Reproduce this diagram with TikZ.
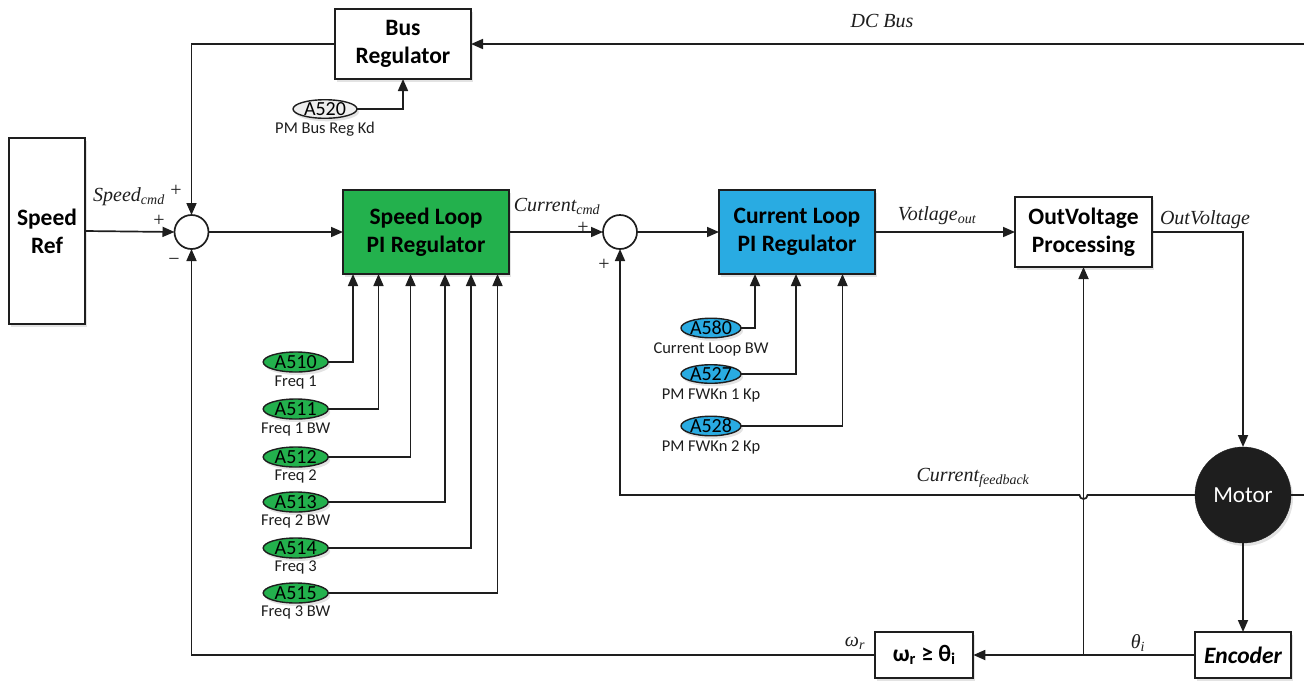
\documentclass[tikz,border=0pt]{standalone}
\usepackage{fontspec}
\setmainfont{Carlito}
\newfontfamily\tms{Liberation Serif}
\usetikzlibrary{arrows.meta,shadows,shapes.geometric,calc}
\definecolor{bgreen}{RGB}{35,177,77}
\definecolor{bblue}{RGB}{41,171,226}
\definecolor{lgrey}{RGB}{238,238,238}
\definecolor{ink}{RGB}{30,30,30}
\begin{document}
\begin{tikzpicture}[x=1pt,y=-1pt,
  every node/.style={inner sep=0pt,outer sep=0pt},
  line/.style={draw=ink,line width=1.7pt},
  arr/.style={line,-{Triangle[length=12pt,width=10pt]}},
  shad/.style={drop shadow={shadow xshift=2pt,shadow yshift=-3pt,opacity=0.22}},
  blk/.style={draw=ink,line width=2.2pt,rectangle,align=center,fill=white,shad,
    font=\fontsize{23.5}{28}\selectfont\bfseries},
  sumj/.style={draw=ink,line width=1.7pt,circle,fill=white,minimum size=34pt},
  par/.style={ellipse,draw=ink,line width=1.4pt,shad,font=\fontsize{20}{20}\selectfont},
  gpar/.style={par,fill=bgreen,minimum width=65pt,minimum height=20pt},
  bpar/.style={par,fill=bblue,minimum width=60pt,minimum height=18pt},
  plab/.style={font=\fontsize{16.5}{18}\selectfont,text=ink},
  ilab/.style={font=\fontsize{20}{22}\selectfont\tms\itshape,text=ink},
  sgn/.style={font=\fontsize{20}{20}\selectfont\tms,text=ink}
]
\useasboundingbox (0,0) rectangle (1304,681);

% blocks
\node[blk,minimum width=136pt,minimum height=70pt] (busreg) at (403,44) {Bus\\Regulator};
\node[blk,minimum width=76pt,minimum height=186pt] (speedref) at (47,231) {Speed\\Ref};
\node[blk,fill=bgreen,minimum width=166pt,minimum height=84pt] (speedloop) at (426,232) {Speed Loop\\PI Regulator};
\node[blk,fill=bblue,minimum width=156pt,minimum height=84pt] (currloop) at (797,232) {Current Loop\\PI Regulator};
\node[blk,minimum width=137pt,minimum height=70pt] (outv) at (1083.5,232) {OutVoltage\\Processing};
\node[circle,fill=ink,draw=ink,minimum size=96pt,shad,text=white,font=\fontsize{23}{28}\selectfont] (motor) at (1243,495) {Motor};
\node[blk,minimum width=96pt,minimum height=46pt,font=\fontsize{23.5}{28}\selectfont\bfseries\itshape] (encoder) at (1243,655) {Encoder};
\node[blk,minimum width=98pt,minimum height=46pt] (omega) at (924.3,655) {ω\textsubscript{r} ≥ θ\textsubscript{i}};

% summing junctions
\node[sumj] (sum1) at (191.5,232) {};
\node[sumj] (sum2) at (620,232) {};

% parameters
\node[par,fill=lgrey,minimum width=64pt,minimum height=18pt] (a520) at (325,109) {A520};
\node[plab] (a520l) at (325,129) {PM Bus Reg Kd};

\node[gpar] (g1) at (295.7,362) {A510};
\node[plab] (g1l) at (295.7,383) {Freq 1};
\node[gpar] (g2) at (295.7,409) {A511};
\node[plab] (g2l) at (295.7,430) {Freq 1 BW};
\node[gpar] (g3) at (295.7,457) {A512};
\node[plab] (g3l) at (295.7,476) {Freq 2};
\node[gpar] (g4) at (295.7,502) {A513};
\node[plab] (g4l) at (295.7,521) {Freq 2 BW};
\node[gpar] (g5) at (295.7,548) {A514};
\node[plab] (g5l) at (295.7,567) {Freq 3};
\node[gpar] (g6) at (295.7,593) {A515};
\node[plab] (g6l) at (295.7,612) {Freq 3 BW};

\node[bpar] (b1) at (711,328) {A580};
\node[plab] (b1l) at (711,349) {Current Loop BW};
\node[bpar] (b2) at (711,374) {A527};
\node[plab] (b2l) at (711,396) {PM FWKn 1 Kp};
\node[bpar] (b3) at (711,426) {A528};
\node[plab] (b3l) at (711,447) {PM FWKn 2 Kp};

% signal labels
\node[ilab] (ldc) at (882,21) {DC Bus};
\node[ilab] (lsp) at (129,197) {Speed\textsubscript{cmd}};
\node[ilab] (lcc) at (557,206) {Current\textsubscript{cmd}};
\node[ilab] (lvo) at (937,216) {Votlage\textsubscript{out}};
\node[ilab] (lov) at (1205,220) {OutVoltage};
\node[ilab] (lcf) at (973,478) {Current\textsubscript{feedback}};
\node[ilab] (lwr) at (855,643) {ω\textsubscript{r}};
\node[ilab] (lth) at (1138,643) {θ\textsubscript{i}};
\node[sgn] (p1) at (176,191) {+};
\node[sgn] (p2) at (159,221) {+};
\node[sgn] (m1) at (174,262) {−};
\node[sgn] (p3) at (583,228) {+};
\node[sgn] (p4) at (604,265) {+};

% coordinates
\coordinate (dcin) at (1304,44);
\coordinate (mout) at (1304,495);
\coordinate (jn) at (outv.south |- encoder.west);
\coordinate (hopc) at (outv.south |- motor.west);

% connectors
\draw[arr] (dcin) -- (busreg.east);
\draw[arr] (busreg.west) -| (sum1.north);
\draw[arr] (a520.east) -| (busreg.south);
\draw[arr] (speedref.east) -- (sum1.west);
\draw[arr] (sum1.east) -- (speedloop.west);
\draw[arr] (speedloop.east) -- (sum2.west);
\draw[arr] (sum2.east) -- (currloop.west);
\draw[arr] (currloop.east) -- (outv.west);
\draw[arr] (outv.east) -| (motor.north);
\draw[arr] (motor.south) -- (encoder.north);
\draw[line] (motor.east) -- (mout);
\draw[arr] (encoder.west) -- (omega.east);
\draw[arr] (jn) -- (outv.south);
\draw[arr] (omega.west) -| (sum1.south);
\draw[arr] (motor.west) -- ([xshift=4pt]hopc) arc[start angle=0,end angle=-180,radius=4pt] -- (sum2.south |- motor.west) -- (sum2.south);

\draw[arr] (g1.east) -| ([xshift=-73pt]speedloop.south);
\draw[arr] (g2.east) -| ([xshift=-47.5pt]speedloop.south);
\draw[arr] (g3.east) -| ([xshift=-15.5pt]speedloop.south);
\draw[arr] (g4.east) -| ([xshift=19pt]speedloop.south);
\draw[arr] (g5.east) -| ([xshift=45pt]speedloop.south);
\draw[arr] (g6.east) -| ([xshift=71.5pt]speedloop.south);

\draw[arr] (b1.east) -| ([xshift=-42pt]currloop.south);
\draw[arr] (b2.east) -| ([xshift=-1pt]currloop.south);
\draw[arr] (b3.east) -| ([xshift=45.5pt]currloop.south);
\end{tikzpicture}
\end{document}
